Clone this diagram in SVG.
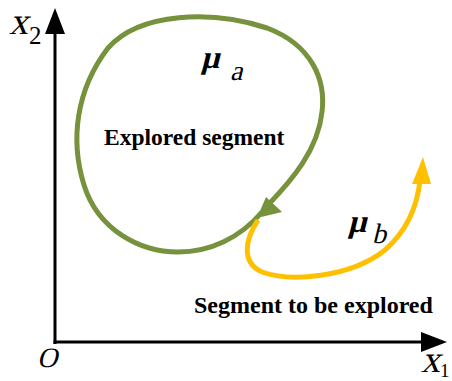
<svg xmlns="http://www.w3.org/2000/svg" width="452" height="381" viewBox="0 0 452 381">
<defs>
<style>
.ax{stroke:#000;stroke-width:3;fill:none}
.lbl{font-family:"Liberation Serif","Times New Roman",serif;fill:#000}
.bold{font-family:"Liberation Serif","Times New Roman",serif;font-weight:bold;font-size:23.5px;fill:#000}
</style>
</defs>
<g id="connectors">
<path class="ax" d="M55,344 V30"/>
<path d="M55,8 L45,34 L65,34 z" fill="#000"/>
<path class="ax" d="M53.5,342 H422"/>
<path d="M447,342 L421,332 L421,352 z" fill="#000"/>
<path id="green" d="M262,212 C240,238 210,252 178,252 C140,252 98,230 84,185 C70,140 76,90 108,48 C140,12 212,10 267,28 C312,45 326,80 322,112 C318,150 292,180 268,205" fill="none" stroke="#76923C" stroke-width="5"/>
<path d="M257,218 L266,197 L282,212 z" fill="#76923C"/>
<path id="yellow" d="M258,220 C246,238 240,262 262,272 C290,282 350,278 385,250 C410,228 418,200 420,180" fill="none" stroke="#FFC000" stroke-width="5"/>
<path d="M423,157 L412,184 L431,184 z" fill="#FFC000"/>
</g>
<g id="labels">
<g transform="translate(9,34) skewX(-14)"><text class="lbl" x="0" y="0" font-size="38">x</text></g>
<text class="lbl" x="29" y="44" font-size="25">2</text>
<g transform="translate(201,68) skewX(-14)"><text class="lbl" x="0" y="0" font-size="32" font-weight="bold">μ</text></g>
<g transform="translate(230,80) skewX(-14)"><text class="lbl" x="0" y="0" font-size="28">a</text></g>
<text class="bold" x="104" y="145">Explored segment</text>
<g transform="translate(348,232) skewX(-14)"><text class="lbl" x="0" y="0" font-size="32" font-weight="bold">μ</text></g>
<g transform="translate(372,243) skewX(-14)"><text class="lbl" x="0" y="0" font-size="28">b</text></g>
<text class="bold" x="194" y="313" style="font-size:24px">Segment to be explored</text>
<g transform="translate(37,367) skewX(-14)"><text class="lbl" x="0" y="0" font-size="28">O</text></g>
<g transform="translate(421,372) skewX(-14)"><text class="lbl" x="0" y="0" font-size="38">x</text></g>
<text class="lbl" x="440" y="377" font-size="19">1</text>
</g>
</svg>
